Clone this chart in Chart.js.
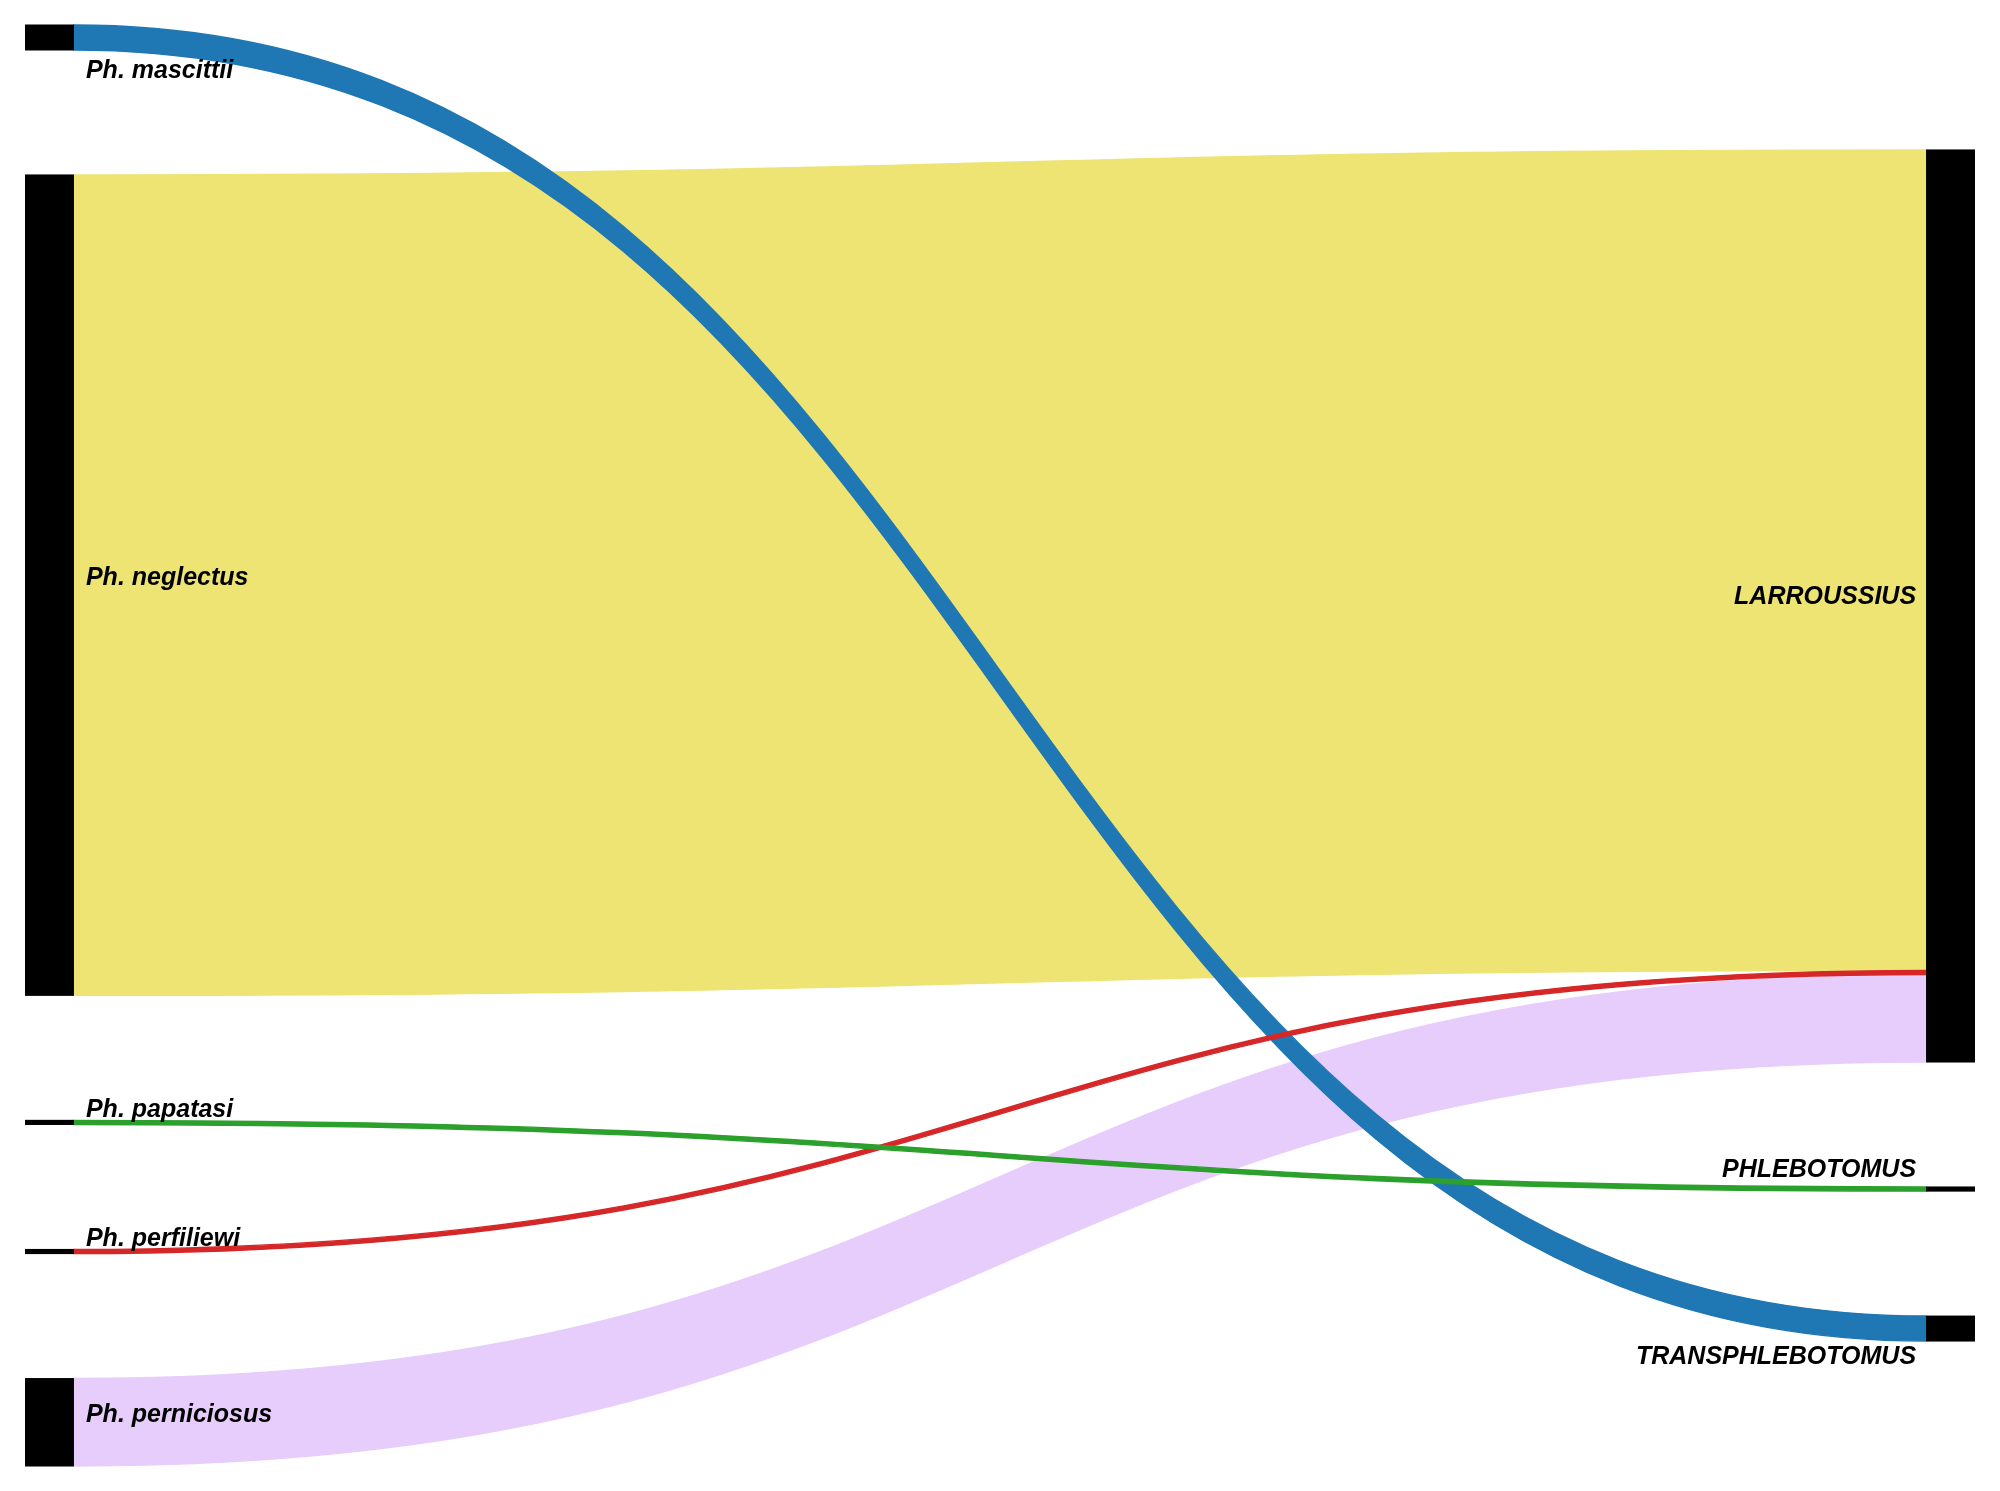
<!DOCTYPE html>
<html>
<head>
<meta charset="utf-8">
<title>Sankey</title>
<script src="https://cdn.jsdelivr.net/npm/chart.js@4/dist/chart.umd.min.js"></script>
<style>
  html, body { margin: 0; padding: 0; background: #fff; }
  canvas { display: block; }
</style>
</head>
<body>
<canvas id="sankey" width="2000" height="1491"></canvas>
<script>
// --------------------------------------------------
// Datos del diagrama
// --------------------------------------------------
const sourceNodes = ['Ph. mascittii', 'Ph. neglectus', 'Ph. papatasi', 'Ph. perfiliewi', 'Ph. perniciosus'];
const targetNodes = ['LARROUSSIUS', 'PHLEBOTOMUS', 'TRANSPHLEBOTOMUS'];

// enlaces (en orden de dibujo)
const linkSource = [1, 4, 0, 3, 2];
const linkTarget = [0, 0, 2, 0, 1];
const linkValue  = [197, 21, 6, 1, 1];
const linkColor  = ['#ede474', '#e7cdfb', '#1f77b4', '#d62728', '#2ca02c'];

// --------------------------------------------------
// Layout de nodos (en unidades de valor)
// --------------------------------------------------
const NODE_PAD = 30;

function nodeTotals(count, key) {
    const totals = new Array(count).fill(0);
    linkValue.forEach(function(v, i) { totals[key[i]] += v; });
    return totals;
}

const srcTotals = nodeTotals(sourceNodes.length, linkSource);
const tgtTotals = nodeTotals(targetNodes.length, linkTarget);

function columnHeight(totals) {
    return totals.reduce(function(a, b) { return a + b; }, 0) + NODE_PAD * (totals.length - 1);
}

const yMax = Math.max(columnHeight(srcTotals), columnHeight(tgtTotals));

function stackColumn(totals) {
    let y = (yMax - columnHeight(totals)) / 2;
    return totals.map(function(t) {
        const n = { y0: y, y1: y + t };
        y += t + NODE_PAD;
        return n;
    });
}

const srcLayout = stackColumn(srcTotals);
const tgtLayout = stackColumn(tgtTotals);

// posicion de cada enlace dentro de sus nodos (ordenado por posicion del nodo opuesto)
const linkPos = linkValue.map(function() { return {}; });
(function() {
    const order = linkValue.map(function(_, i) { return i; });
    const srcOff = srcLayout.map(function(n) { return n.y0; });
    const tgtOff = tgtLayout.map(function(n) { return n.y0; });
    order.slice().sort(function(a, b) { return linkTarget[a] - linkTarget[b]; }).forEach(function(i) {
        const s = linkSource[i];
        linkPos[i].sy0 = srcOff[s];
        linkPos[i].sy1 = srcOff[s] + linkValue[i];
        srcOff[s] += linkValue[i];
    });
    order.slice().sort(function(a, b) { return linkSource[a] - linkSource[b]; }).forEach(function(i) {
        const t = linkTarget[i];
        linkPos[i].ty0 = tgtOff[t];
        linkPos[i].ty1 = tgtOff[t] + linkValue[i];
        tgtOff[t] += linkValue[i];
    });
})();

// desplazamiento vertical de las etiquetas (px)
const labelShiftSrc = [34, -7, -12, -12, -7];
const labelShiftTgt = [-9, -19, 29];

const NODE_W = 0.0251;

// --------------------------------------------------
// Plugin que dibuja el sankey con las escalas del grafico
// --------------------------------------------------
const sankeyPlugin = {
    id: 'sankeyDraw',
    afterDatasetsDraw: function(chart) {
        const ctx = chart.ctx;
        const xs = chart.scales.x;
        const ys = chart.scales.y;
        const xL0 = xs.getPixelForValue(0);
        const xL1 = xs.getPixelForValue(NODE_W);
        const xR0 = xs.getPixelForValue(1 - NODE_W);
        const xR1 = xs.getPixelForValue(1);
        const xm = (xL1 + xR0) / 2;

        ctx.save();

        // enlaces
        linkValue.forEach(function(v, i) {
            const p = linkPos[i];
            const a0 = ys.getPixelForValue(p.sy0), a1 = ys.getPixelForValue(p.sy1);
            const b0 = ys.getPixelForValue(p.ty0), b1 = ys.getPixelForValue(p.ty1);
            ctx.beginPath();
            ctx.moveTo(xL1, a0);
            ctx.bezierCurveTo(xm, a0, xm, b0, xR0, b0);
            ctx.lineTo(xR0, b1);
            ctx.bezierCurveTo(xm, b1, xm, a1, xL1, a1);
            ctx.closePath();
            ctx.fillStyle = linkColor[i];
            ctx.fill();
            ctx.strokeStyle = linkColor[i];
            ctx.lineWidth = 1.4;
            ctx.stroke();
        });

        // nodos
        ctx.fillStyle = '#000';
        srcLayout.forEach(function(n) {
            const y0 = ys.getPixelForValue(n.y0), y1 = ys.getPixelForValue(n.y1);
            ctx.fillRect(xL0, y0 - 0.5, xL1 - xL0, y1 - y0 + 1);
        });
        tgtLayout.forEach(function(n) {
            const y0 = ys.getPixelForValue(n.y0), y1 = ys.getPixelForValue(n.y1);
            ctx.fillRect(xR0, y0 - 0.5, xR1 - xR0, y1 - y0 + 1);
        });

        // etiquetas
        ctx.font = 'italic bold 25px "Liberation Sans", Arial, sans-serif';
        ctx.textBaseline = 'middle';
        ctx.fillStyle = '#000';
        ctx.textAlign = 'left';
        srcLayout.forEach(function(n, i) {
            const yc = (ys.getPixelForValue(n.y0) + ys.getPixelForValue(n.y1)) / 2;
            ctx.fillText(sourceNodes[i], xL1 + 12, yc + labelShiftSrc[i]);
        });
        ctx.textAlign = 'right';
        tgtLayout.forEach(function(n, i) {
            const yc = (ys.getPixelForValue(n.y0) + ys.getPixelForValue(n.y1)) / 2;
            ctx.fillText(targetNodes[i], xR0 - 10, yc + labelShiftTgt[i]);
        });

        ctx.restore();
    }
};

new Chart(document.getElementById('sankey').getContext('2d'), {
    type: 'scatter',
    data: { datasets: [{ data: [], pointRadius: 0 }] },
    options: {
        responsive: false,
        animation: false,
        layout: { padding: { left: 25, right: 25, top: 25, bottom: 25 } },
        plugins: { legend: { display: false }, tooltip: { enabled: false } },
        scales: {
            x: { type: 'linear', min: 0, max: 1, display: false },
            y: { type: 'linear', min: 0, max: yMax, reverse: true, display: false }
        }
    },
    plugins: [sankeyPlugin]
});
</script>
</body>
</html>
